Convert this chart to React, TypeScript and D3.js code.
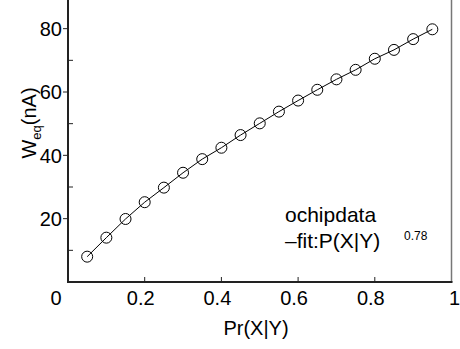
import * as d3 from "d3";

const prValues = [0.05, 0.1, 0.15, 0.2, 0.25, 0.3, 0.35, 0.4, 0.45, 0.5, 0.55, 0.6, 0.65, 0.7, 0.75, 0.8, 0.85, 0.9, 0.95];
const weqValues = [8.0, 14.0, 19.9, 25.2, 29.8, 34.5, 38.8, 42.4, 46.4, 50.1, 53.8, 57.3, 60.7, 64.0, 67.0, 70.5, 73.3, 76.7, 79.8];
const xTicks = [0, 0.2, 0.4, 0.6, 0.8, 1];
const xTickLabels = ["0", "0.2", "0.4", "0.6", "0.8", "1"];
const yMajor = [20, 40, 60, 80];
const yMinor = [10, 30, 50, 70];

const W = 460;
const H = 349;
const font = "Liberation Sans, Arial, sans-serif";

export default function App() {
  const x = d3.scaleLinear().domain([0, 1]).range([68, 451.5]);
  const y = d3.scaleLinear().domain([0, 90]).range([282, -3]);
  const pts = prValues.map((p, i) => ({ p, w: weqValues[i] }));
  const line = d3.line<{ p: number; w: number }>().x(d => x(d.p)).y(d => y(d.w));

  const labelDx = (i: number) => (i === 0 ? -12 : i === xTicks.length - 1 ? 3 : -4);

  return (
    <svg width={W} height={H} style={{ position: "absolute", left: 0, top: 0, background: "#fff" }} fontFamily={font}>
      {/* right frame */}
      <line x1={x(1)} x2={x(1)} y1={0} y2={y(0)} stroke="#777" strokeWidth={1.5} />

      {/* fit + data */}
      <path d={line(pts) ?? ""} fill="none" stroke="#000" strokeWidth={1} />
      {pts.map((d, i) => (
        <circle key={i} cx={x(d.p)} cy={y(d.w)} r={5.5} fill="none" stroke="#000" strokeWidth={1} />
      ))}

      {/* y axis */}
      <line x1={x(0)} x2={x(0)} y1={0} y2={y(0) + 1} stroke="#222" strokeWidth={2} />
      {yMajor.map(v => (
        <g key={v}>
          <line x1={x(0) - 5} x2={x(0)} y1={y(v)} y2={y(v)} stroke="#222" strokeWidth={1} />
          <text x={62} y={y(v)} dy="0.36em" textAnchor="end" fontSize={20} fill="#000">{v}</text>
        </g>
      ))}
      {yMinor.map(v => (
        <line key={v} x1={x(0)} x2={x(0) + 5} y1={y(v)} y2={y(v)} stroke="#222" strokeWidth={1} />
      ))}

      {/* x axis */}
      <line x1={x(0) - 1} x2={x(1) + 1} y1={y(0)} y2={y(0)} stroke="#222" strokeWidth={2} />
      {xTicks.map((v, i) => (
        <g key={v}>
          {i > 0 && i < xTicks.length - 1 && (
            <line x1={x(v)} x2={x(v)} y1={y(0)} y2={y(0) - 5} stroke="#222" strokeWidth={1} />
          )}
          <text x={x(v) + labelDx(i)} y={305} textAnchor="middle" fontSize={20} fill="#000">{xTickLabels[i]}</text>
        </g>
      ))}

      {/* axis titles */}
      <text x={256} y={335} textAnchor="middle" fontSize={20} fill="#000">Pr(X|Y)</text>
      <text transform={`translate(36,123) rotate(-90)`} textAnchor="middle" fontSize={20} fill="#000">
        W<tspan fontSize={13} dy={5}>eq</tspan><tspan dy={-5}>(nA)</tspan>
      </text>

      {/* legend */}
      <text x={285} y={222} fontSize={21} fill="#000">ochipdata</text>
      <text x={285} y={248} fontSize={21} fill="#000">–fit:P(X|Y)</text>
      <text x={404} y={240} fontSize={12} fill="#000">0.78</text>
    </svg>
  );
}
